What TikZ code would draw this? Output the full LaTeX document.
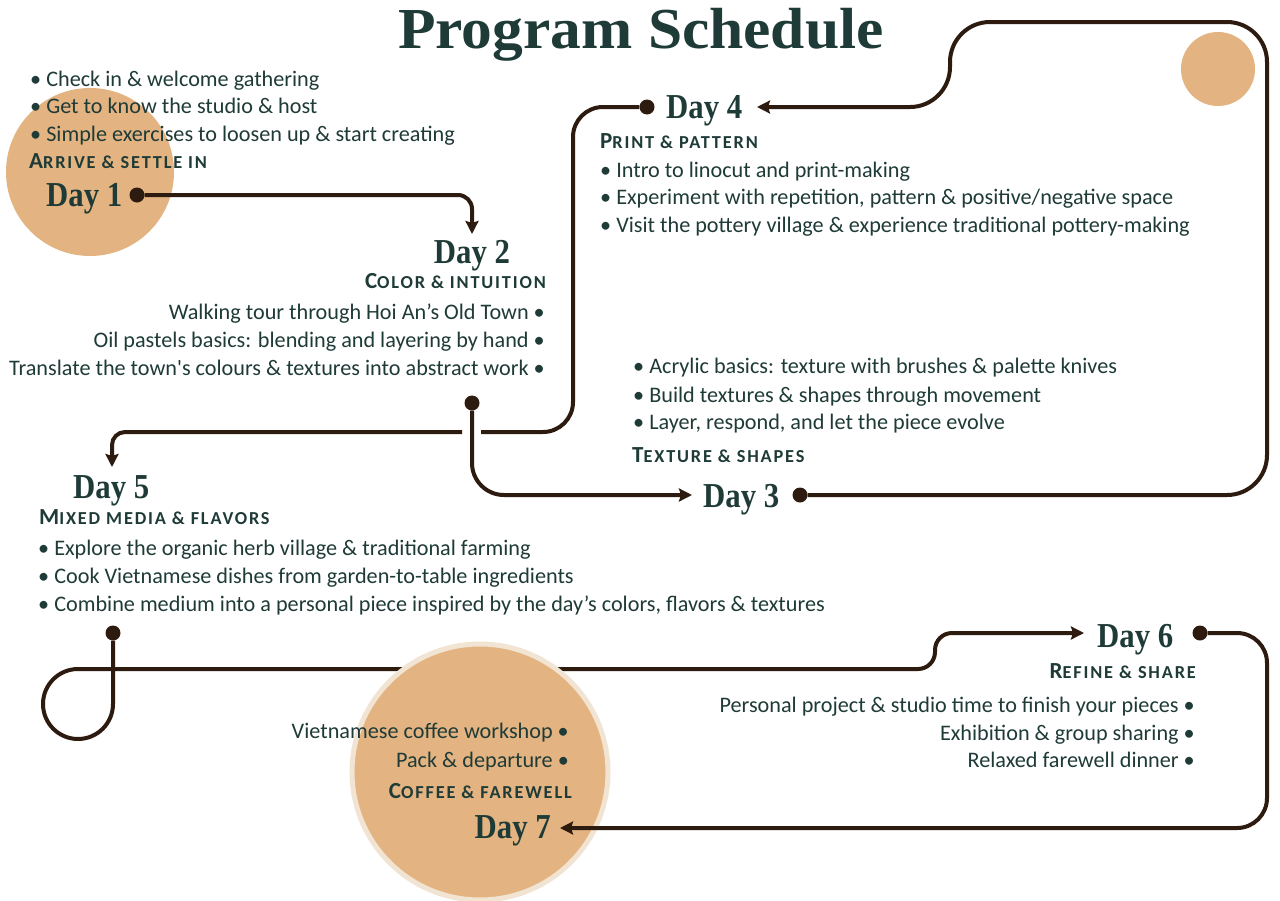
\documentclass[tikz,border=0pt]{standalone}
\usepackage{fontspec}
\usepackage{graphicx}
\setmainfont{Carlito}
\newfontfamily\dayfont{Liberation Serif}
\newfontfamily\hdfont[LetterSpace=10]{Carlito}
\usetikzlibrary{arrows.meta}
\definecolor{ink}{HTML}{1F3B37}
\definecolor{brownline}{HTML}{2E1B10}
\definecolor{sand}{HTML}{E3B481}
\definecolor{ring}{HTML}{F2E4D3}
\newcommand\dayt[1]{\scalebox{0.88}[1]{#1}}
\newcommand\hdt[2]{{\fontsize{23}{23}\selectfont #1}{\fontsize{18.3}{18.3}\selectfont #2}}
\newcommand\sq{{\XeTeXglyph\XeTeXcharglyph"0027\relax}}
\tikzset{
  txt/.style={inner sep=0pt, text=ink, font=\fontsize{22.2}{26}\selectfont},
  hd/.style={inner sep=0pt, text=ink, font=\hdfont\bfseries},
  day/.style={inner sep=0pt, text=ink, font=\dayfont\bfseries\fontsize{35}{40}\selectfont},
  conn/.style={draw=brownline, line width=4pt},
  arr/.style={conn, -{Stealth[length=13pt,width=13pt,inset=2pt]}},
  dotn/.style={circle, fill=brownline, inner sep=0pt, minimum size=15pt},
}
\begin{document}
\begin{tikzpicture}[x=1pt,y=-1pt]
\useasboundingbox (0,0) rectangle (1280,900);
\fill[white] (0,0) rectangle (1280,900);
% decorative circles
\fill[sand] (90,172) circle[radius=84pt];
\fill[sand] (1218,69) circle[radius=37pt];
% title
\node[anchor=base, inner sep=0pt, text=ink, font=\dayfont\bfseries\fontsize{58}{60}\selectfont] (title) at (641,48) {\scalebox{1.06}[1]{Program Schedule}};
% dots
\node[dotn] (p1) at (137,195) {};
\node[dotn] (p2) at (472,403) {};
\node[dotn] (p3) at (800,495) {};
\node[dotn] (p4) at (647,107) {};
\node[dotn] (p5) at (113,633) {};
\node[dotn] (p6) at (1200,633) {};
% arrow targets
\coordinate (a2) at (472,234);
\coordinate (a3) at (692,495);
\coordinate (a4) at (757,107);
\coordinate (a5) at (112,467);
\coordinate (a6) at (1084,633);
\coordinate (a7) at (560,828);
\coordinate (g1) at (481,432);
\coordinate (g2) at (462,432);
% connectors
\draw[arr, rounded corners=14pt] (p1) -- (472,195) -- (a2);
\draw[conn, rounded corners=30pt] (p4) -- (573,107) -- (573,432) -- (g1);
\draw[arr, rounded corners=13pt] (g2) -- (112,432) -- (a5);
\draw[arr, rounded corners=32pt] (p2) -- (472,495) -- (a3);
\draw[arr, rounded corners=40pt] (p3) -- (1267,495) -- (1267,22) -- (950,22) -- (950,107) -- (a4);
\draw[arr] (p5) -- (113,704)
  .. controls (113,723.3) and (97.3,739) .. (78,739)
  .. controls (58.7,739) and (43,723.3) .. (43,704)
  .. controls (43,684.7) and (58.7,669) .. (78,669)
  -- (300,669) [rounded corners=17pt] -- (935,669) -- (935,633) -- (a6);
% day 7 circle
\filldraw[fill=sand, draw=ring, line width=5pt] (480,772) circle[radius=128pt];
\draw[arr, rounded corners=30pt] (p6) -- (1267,633) -- (1267,828) -- (a7);
% Day 1
\node[txt, anchor=base west] (d1a) at (30,86) {• Check in \& welcome gathering};
\node[txt, anchor=base west] (d1b) at (30,113) {• Get to know the studio \& host};
\node[txt, anchor=base west] (d1c) at (30,141) {• Simple exercises to loosen up \& start creating};
\node[hd, anchor=base west] (h1) at (29,168) {\hdt{A}{RRIVE \& SETTLE IN}};
\node[day, anchor=base west] (d1) at (46,206) {\dayt{Day 1}};
% Day 2
\node[day, anchor=base] (d2) at (472,263) {\dayt{Day 2}};
\node[hd, anchor=base east] (h2) at (546,288) {\hdt{C}{OLOR \& INTUITION}};
\node[txt, anchor=base east] (d2a) at (545,319) {Walking tour through Hoi An’s Old Town •};
\node[txt, anchor=base east] (d2b) at (545,347) {Oil pastels basics: blending and layering by hand •};
\node[txt, anchor=base east] (d2c) at (545,375) {Translate the town\sq s colours \& textures into abstract work •};
% Day 4
\node[day, anchor=base west] (d4) at (666,118) {\dayt{Day 4}};
\node[hd, anchor=base west] (h4) at (600,148) {\hdt{P}{RINT \& PATTERN}};
\node[txt, anchor=base west] (d4a) at (600,177) {• Intro to linocut and print-making};
\node[txt, anchor=base west] (d4b) at (600,204) {• Experiment with repetition, pattern \& positive/negative space};
\node[txt, anchor=base west] (d4c) at (600,232) {• Visit the pottery village \& experience traditional pottery-making};
% Day 3
\node[txt, anchor=base west] (d3a) at (633,373) {• Acrylic basics: texture with brushes \& palette knives};
\node[txt, anchor=base west] (d3b) at (633,402) {• Build textures \& shapes through movement};
\node[txt, anchor=base west] (d3c) at (633,429) {• Layer, respond, and let the piece evolve};
\node[hd, anchor=base west] (h3) at (632,462) {\hdt{T}{EXTURE \& SHAPES}};
\node[day, anchor=base west] (d3) at (703,507) {\dayt{Day 3}};
% Day 5
\node[day, anchor=base west] (d5) at (73,498) {\dayt{Day 5}};
\node[hd, anchor=base west] (h5) at (39,524) {\hdt{M}{IXED MEDIA \& FLAVORS}};
\node[txt, anchor=base west] (d5a) at (38,555) {• Explore the organic herb village \& traditional farming};
\node[txt, anchor=base west] (d5b) at (38,583) {• Cook Vietnamese dishes from garden-to-table ingredients};
\node[txt, anchor=base west] (d5c) at (38,611) {• Combine medium into a personal piece inspired by the day’s colors, flavors \& textures};
% Day 6
\node[day, anchor=base west] (d6) at (1097,647) {\dayt{Day 6}};
\node[hd, anchor=base east] (h6) at (1196,678) {\hdt{R}{EFINE \& SHARE}};
\node[txt, anchor=base east] (d6a) at (1195,712) {Personal project \& studio time to finish your pieces •};
\node[txt, anchor=base east] (d6b) at (1195,740) {Exhibition \& group sharing •};
\node[txt, anchor=base east] (d6c) at (1195,767) {Relaxed farewell dinner •};
% Day 7
\node[txt, anchor=base east] (d7a) at (569,738) {Vietnamese coffee workshop •};
\node[txt, anchor=base east] (d7b) at (569,767) {Pack \& departure •};
\node[hd, anchor=base east] (h7) at (572,798) {\hdt{C}{OFFEE \& FAREWELL}};
\node[day, anchor=base east] (d7) at (551,838) {\dayt{Day 7}};
\end{tikzpicture}
\end{document}
